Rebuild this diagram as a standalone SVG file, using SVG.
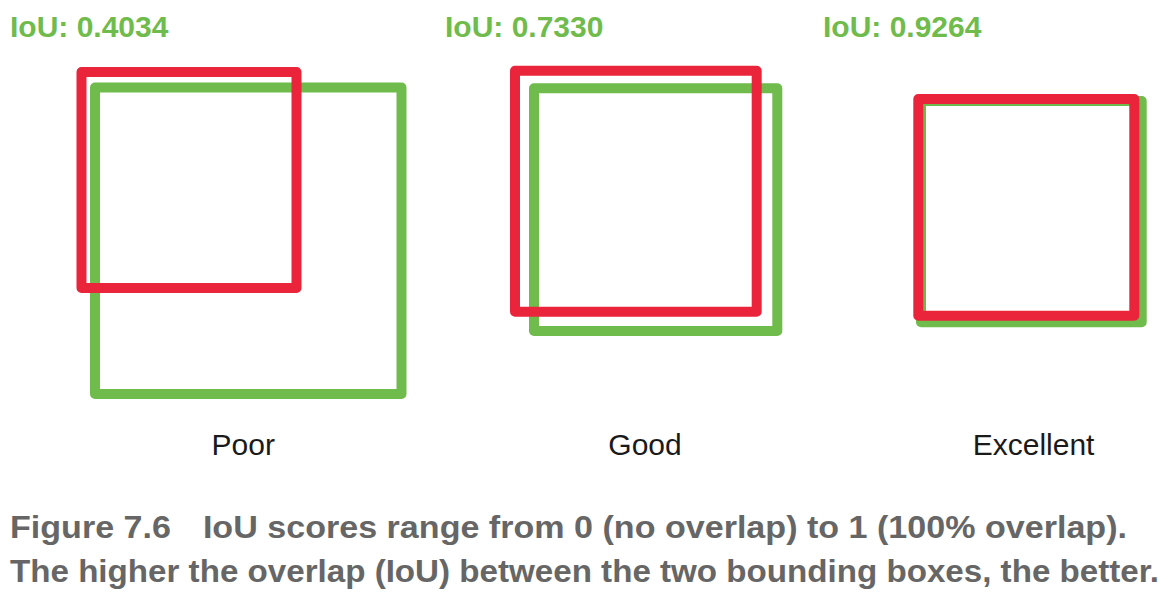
<svg xmlns="http://www.w3.org/2000/svg" width="1168" height="594" viewBox="0 0 1168 594">
<style>
.bg{fill:#ffffff}
.gt{fill:none;stroke:#6fbb4b;stroke-width:10;stroke-linejoin:round}
.rd{fill:none;stroke:#ea253b;stroke-width:10;stroke-linejoin:round}
.iou{font-family:"Liberation Sans",Arial,sans-serif;font-weight:bold;font-size:30px;fill:#6fbb4b}
.lbl{font-family:"Liberation Sans",Arial,sans-serif;font-size:30px;fill:#1a1a1a}
.cap{font-family:"Liberation Sans",Arial,sans-serif;font-weight:bold;font-size:32px;fill:#666666}
</style>
<rect class="bg" x="0" y="0" width="1168" height="594"/>
<g id="poor">
<text class="iou" x="10" y="36.5">IoU: 0.4034</text>
<rect class="gt" x="95" y="87.5" width="306.5" height="306.5"/>
<rect class="rd" x="81.5" y="72" width="215" height="216"/>
<text class="lbl" x="211.5" y="455">Poor</text>
</g>
<g id="good">
<text class="iou" x="445" y="36.5">IoU: 0.7330</text>
<rect class="gt" x="534" y="88.3" width="243.3" height="242.7"/>
<rect class="rd" x="515" y="70.7" width="241.7" height="241"/>
<text class="lbl" x="608.3" y="455">Good</text>
</g>
<g id="excellent">
<text class="iou" x="823" y="36.5">IoU: 0.9264</text>
<rect class="gt" x="921" y="101" width="220.7" height="221.3"/>
<rect class="rd" x="918.3" y="99" width="216" height="216.7"/>
<text class="lbl" x="972.7" y="455">Excellent</text>
</g>
<g id="connectors"></g>
<g id="caption">
<text class="cap" x="10" y="538" textLength="1117" lengthAdjust="spacingAndGlyphs">Figure 7.6<tspan dx="30">IoU scores range from 0 (no overlap) to 1 (100% overlap).</tspan></text>
<text class="cap" x="10" y="582" textLength="1149" lengthAdjust="spacingAndGlyphs">The higher the overlap (IoU) between the two bounding boxes, the better.</text>
</g>
</svg>
